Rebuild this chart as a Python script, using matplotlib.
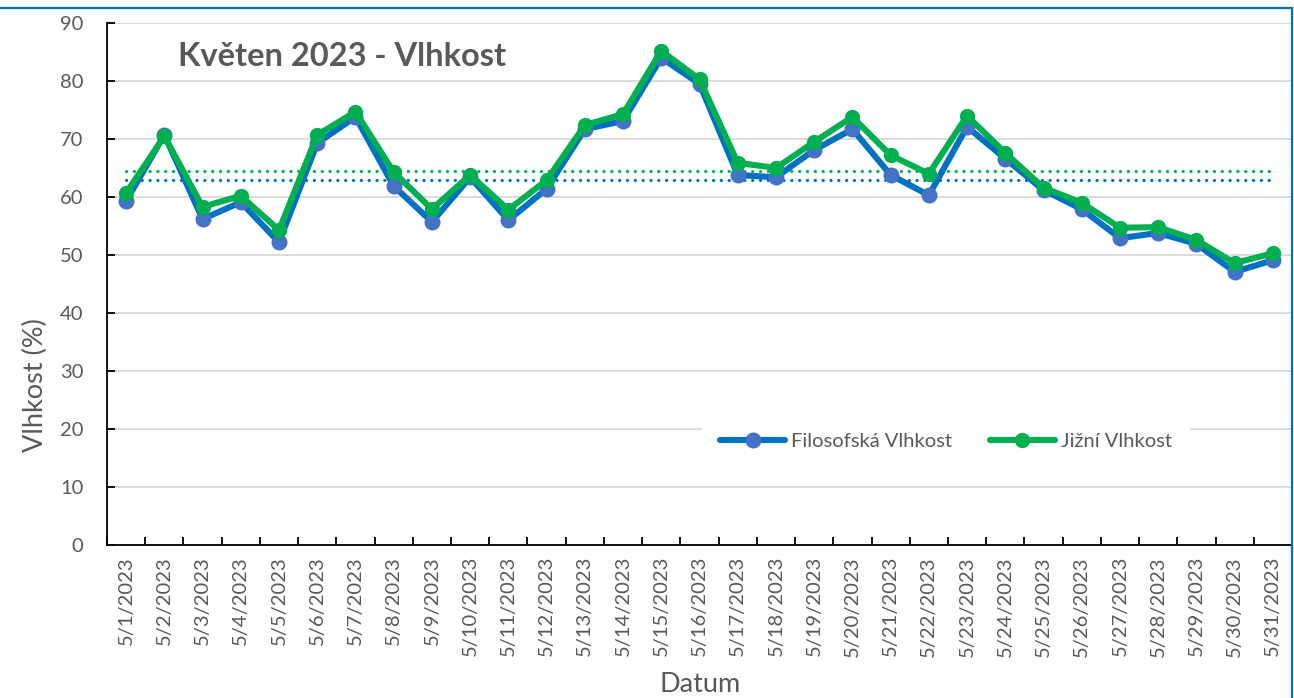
import numpy as np
import matplotlib
matplotlib.use("Agg")
import matplotlib.pyplot as plt
from matplotlib.patches import Rectangle

plt.rcParams['font.family'] = ['Lato', 'DejaVu Sans']

dates = [f"5/{d}/2023" for d in range(1, 32)]
filosofska = [59.3, 70.7, 56.2, 59.1, 52.2, 69.3, 73.8, 61.9, 55.7, 63.4,
              56.0, 61.4, 71.7, 73.1, 84.0, 79.5, 63.8, 63.4, 68.1, 71.7,
              63.8, 60.3, 72.1, 66.6, 61.2, 57.9, 52.9, 53.8, 51.9, 47.1, 49.1]
jizni = [60.7, 70.5, 58.3, 60.2, 54.3, 70.7, 74.7, 64.3, 57.9, 63.8,
         57.8, 62.9, 72.4, 74.3, 85.2, 80.3, 65.9, 65.0, 69.5, 73.8,
         67.2, 64.0, 74.0, 67.6, 61.6, 59.0, 54.7, 54.8, 52.6, 48.6, 50.3]
series_names = ["Filosofská Vlhkost", "Jižní Vlhkost"]
title = "Květen 2023 - Vlhkost"
y_label = "Vlhkost (%)"
x_label = "Datum"

BLUE_LINE = "#0070C0"
BLUE_MARK = "#4472C4"
GREEN = "#00B050"
GRAY = "#595959"

W, H = 1294, 698
fig = plt.figure(figsize=(W / 100, H / 100), dpi=100)
L, R, T, B = 107, 1292, 23, 545
ax = fig.add_axes([L / W, (H - B) / H, (R - L) / W, (B - T) / H])

x = np.arange(len(dates))

# averages (dotted)
ax.plot(x, np.full(len(x), np.mean(filosofska)), color=BLUE_LINE, lw=2.3,
        linestyle=(0, (0.05, 2.4)), dash_capstyle='round', zorder=2)
ax.plot(x, np.full(len(x), np.mean(jizni)), color=GREEN, lw=2.3,
        linestyle=(0, (0.05, 2.4)), dash_capstyle='round', zorder=2)

ax.plot(x, filosofska, color=BLUE_LINE, lw=4.4, marker='o', markersize=10.5,
        markerfacecolor=BLUE_MARK, markeredgecolor=BLUE_MARK,
        label=series_names[0], zorder=3, solid_capstyle='round', solid_joinstyle='round')
ax.plot(x, jizni, color=GREEN, lw=4.4, marker='o', markersize=10,
        markerfacecolor=GREEN, markeredgecolor=GREEN,
        label=series_names[1], zorder=4, solid_capstyle='round', solid_joinstyle='round')

ax.set_xlim(-0.5, len(x) - 0.5)
ax.set_ylim(0, 90)
ax.set_yticks(np.arange(0, 91, 10))
ax.grid(axis='y', color='#d9d9d9', lw=1.3, zorder=0)
ax.set_axisbelow(True)

# category boundaries as major ticks, labels at centers as minor ticks
ax.set_xticks(np.arange(-0.5, len(x), 1.0))
ax.set_xticklabels([])
ax.set_xticks(x, minor=True)
ax.set_xticklabels(dates, minor=True, rotation=90, fontsize=14.5, color=GRAY)
ax.tick_params(axis='x', which='major', direction='in', length=6, width=1.3, color='black')
ax.tick_params(axis='x', which='minor', length=0, pad=8)
ax.tick_params(axis='y', direction='in', length=6, width=1.3, color='black',
               labelsize=14.5, labelcolor=GRAY, pad=17)

for s in ['top', 'right']:
    ax.spines[s].set_visible(False)
for s in ['left', 'bottom']:
    ax.spines[s].set_color('black')
    ax.spines[s].set_linewidth(1.3)

ax.text(0.06, 0.935, title, transform=ax.transAxes, fontsize=23.5, fontweight='bold',
        color=GRAY, ha='left', va='center')

fig.text(35 / W, 1 - 385 / H, y_label, rotation=90, fontsize=19.5, color=GRAY,
         ha='center', va='center')
fig.text(700 / W, 1 - 685 / H, x_label, fontsize=19.5, color=GRAY,
         ha='center', va='center')

leg = ax.legend(loc='center', bbox_to_anchor=(0.708, 0.199), ncol=2, frameon=True,
                fontsize=14.5, handlelength=3.2, handletextpad=0.3, columnspacing=1.9,
                borderpad=0.9, fancybox=False)
leg.get_frame().set_facecolor('white')
leg.get_frame().set_edgecolor('none')
leg.get_frame().set_alpha(1)
for t in leg.get_texts():
    t.set_color(GRAY)

# outer chart border (blue)
fig.add_artist(Rectangle((-0.01, -0.01), 1292.5 / W + 0.01, (H - 7.5) / H + 0.01,
                         transform=fig.transFigure, fill=False,
                         edgecolor=BLUE_LINE, lw=1.6, clip_on=False))

fig.savefig("out.png", dpi=100)
